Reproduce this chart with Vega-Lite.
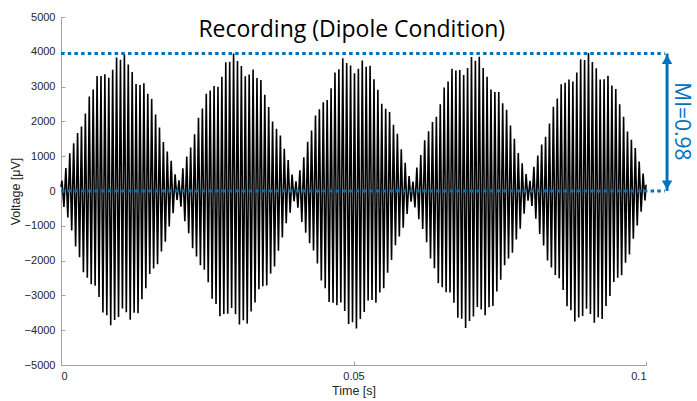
{
  "$schema": "https://vega.github.io/schema/vega-lite/v6.json",
  "width": 585,
  "height": 348,
  "autosize": {"type": "none"},
  "padding": {"left": 61, "top": 17, "right": 51, "bottom": 36},
  "background": "white",
  "config": {
    "view": {"stroke": null},
    "axis": {
      "domainColor": "#a0a0a0",
      "tickColor": "#a0a0a0",
      "labelColor": "#262626",
      "titleColor": "#262626",
      "labelFont": "Liberation Sans",
      "titleFont": "Liberation Sans",
      "labelFontSize": 11,
      "titleFontSize": 12.5,
      "titleFontWeight": "normal",
      "grid": false,
      "tickSize": -4
    }
  },
  "datasets": {
    "sig": [
      {"ms":0,"v":120},
      {"ms":0.167,"v":296},{"ms":0.5,"v":-458},{"ms":0.833,"v":662},{"ms":1.167,"v":-761},{"ms":1.5,"v":1084},{"ms":1.833,"v":-1138},{"ms":2.167,"v":1375},{"ms":2.5,"v":-1597},{"ms":2.833,"v":1665},{"ms":3.167,"v":-1903},
      {"ms":3.5,"v":1854},{"ms":3.833,"v":-2335},{"ms":4.167,"v":2228},{"ms":4.5,"v":-2493},{"ms":4.833,"v":2713},{"ms":5.167,"v":-2677},{"ms":5.5,"v":2916},{"ms":5.833,"v":-2724},{"ms":6.167,"v":3304},{"ms":6.5,"v":-3047},
      {"ms":6.833,"v":3306},{"ms":7.167,"v":-3494},{"ms":7.5,"v":3358},{"ms":7.833,"v":-3567},{"ms":8.167,"v":3256},{"ms":8.5,"v":-3861},{"ms":8.833,"v":3486},{"ms":9.167,"v":-3704},{"ms":9.5,"v":3839},{"ms":9.833,"v":-3618},
      {"ms":10.167,"v":3772},{"ms":10.5,"v":-3378},{"ms":10.833,"v":3934},{"ms":11.167,"v":-3486},{"ms":11.5,"v":3637},{"ms":11.833,"v":-3700},{"ms":12.167,"v":3422},{"ms":12.5,"v":-3501},{"ms":12.833,"v":3075},{"ms":13.167,"v":-3510},
      {"ms":13.5,"v":3047},{"ms":13.833,"v":-3112},{"ms":14.167,"v":3096},{"ms":14.5,"v":-2797},{"ms":14.833,"v":2791},{"ms":15.167,"v":-2387},{"ms":15.5,"v":2647},{"ms":15.833,"v":-2228},{"ms":16.167,"v":2199},{"ms":16.5,"v":-2107},
      {"ms":16.833,"v":1825},{"ms":17.167,"v":-1736},{"ms":17.5,"v":1405},{"ms":17.833,"v":-1461},{"ms":18.167,"v":1138},{"ms":18.5,"v":-1020},{"ms":18.833,"v":865},{"ms":19.167,"v":-635},{"ms":19.5,"v":477},{"ms":19.833,"v":-260},
      {"ms":20.167,"v":305},{"ms":20.5,"v":-448},{"ms":20.833,"v":656},{"ms":21.167,"v":-865},{"ms":21.5,"v":989},{"ms":21.833,"v":-1212},{"ms":22.167,"v":1248},{"ms":22.5,"v":-1645},{"ms":22.833,"v":1629},{"ms":23.167,"v":-1884},
      {"ms":23.5,"v":2107},{"ms":23.833,"v":-2131},{"ms":24.167,"v":2374},{"ms":24.5,"v":-2262},{"ms":24.833,"v":2794},{"ms":25.167,"v":-2620},{"ms":25.5,"v":2886},{"ms":25.833,"v":-3096},{"ms":26.167,"v":3016},{"ms":26.5,"v":-3246},
      {"ms":26.833,"v":2999},{"ms":27.167,"v":-3599},{"ms":27.5,"v":3286},{"ms":27.833,"v":-3531},{"ms":28.167,"v":3700},{"ms":28.5,"v":-3524},{"ms":28.833,"v":3713},{"ms":29.167,"v":-3361},{"ms":29.5,"v":3954},{"ms":29.833,"v":-3541},
      {"ms":30.167,"v":3734},{"ms":30.5,"v":-3839},{"ms":30.833,"v":3590},{"ms":31.167,"v":-3713},{"ms":31.5,"v":3299},{"ms":31.833,"v":-3811},{"ms":32.167,"v":3349},{"ms":32.5,"v":-3465},{"ms":32.833,"v":3494},{"ms":33.167,"v":-3204},
      {"ms":33.5,"v":3246},{"ms":33.833,"v":-2823},{"ms":34.167,"v":3189},{"ms":34.5,"v":-2737},{"ms":34.833,"v":2763},{"ms":35.167,"v":-2713},{"ms":35.5,"v":2416},{"ms":35.833,"v":-2374},{"ms":36.167,"v":1995},{"ms":36.5,"v":-2170},
      {"ms":36.833,"v":1787},{"ms":37.167,"v":-1718},{"ms":37.5,"v":1597},{"ms":37.833,"v":-1333},{"ms":38.167,"v":1212},{"ms":38.5,"v":-926},{"ms":38.833,"v":891},{"ms":39.167,"v":-622},{"ms":39.5,"v":472},{"ms":39.833,"v":-296},
      {"ms":40.167,"v":278},{"ms":40.5,"v":-477},{"ms":40.833,"v":595},{"ms":41.167,"v":-891},{"ms":41.5,"v":968},{"ms":41.833,"v":-1200},{"ms":42.167,"v":1418},{"ms":42.5,"v":-1501},{"ms":42.833,"v":1736},{"ms":43.167,"v":-1709},
      {"ms":43.5,"v":2170},{"ms":43.833,"v":-2086},{"ms":44.167,"v":2349},{"ms":44.5,"v":-2570},{"ms":44.833,"v":2550},{"ms":45.167,"v":-2791},{"ms":45.5,"v":2618},{"ms":45.833,"v":-3189},{"ms":46.167,"v":2951},{"ms":46.5,"v":-3213},
      {"ms":46.833,"v":3408},{"ms":47.167,"v":-3284},{"ms":47.5,"v":3501},{"ms":47.833,"v":-3203},{"ms":48.167,"v":3811},{"ms":48.5,"v":-3449},{"ms":48.833,"v":3675},{"ms":49.167,"v":-3819},{"ms":49.5,"v":3609},{"ms":49.833,"v":-3772},
      {"ms":50.167,"v":3387},{"ms":50.5,"v":-3954},{"ms":50.833,"v":3513},{"ms":51.167,"v":-3675},{"ms":51.5,"v":3749},{"ms":51.833,"v":-3478},{"ms":52.167,"v":3567},{"ms":52.5,"v":-3143},{"ms":52.833,"v":3599},{"ms":53.167,"v":-3135},
      {"ms":53.5,"v":3213},{"ms":53.833,"v":-3208},{"ms":54.167,"v":2910},{"ms":54.5,"v":-2916},{"ms":54.833,"v":2506},{"ms":55.167,"v":-2794},{"ms":55.5,"v":2364},{"ms":55.833,"v":-2349},{"ms":56.167,"v":2267},{"ms":56.5,"v":-1981},
      {"ms":56.833,"v":1903},{"ms":57.167,"v":-1558},{"ms":57.5,"v":1645},{"ms":57.833,"v":-1305},{"ms":58.167,"v":1200},{"ms":58.5,"v":-1052},{"ms":58.833,"v":813},{"ms":59.167,"v":-662},{"ms":59.5,"v":429},{"ms":59.833,"v":-305},
      {"ms":60.167,"v":272},{"ms":60.5,"v":-472},{"ms":60.833,"v":676},{"ms":61.167,"v":-813},{"ms":61.5,"v":1031},{"ms":61.833,"v":-1089},{"ms":62.167,"v":1461},{"ms":62.5,"v":-1469},{"ms":62.833,"v":1718},{"ms":63.167,"v":-1942},
      {"ms":63.5,"v":1981},{"ms":63.833,"v":-2222},{"ms":64.167,"v":2131},{"ms":64.5,"v":-2647},{"ms":64.833,"v":2496},{"ms":65.167,"v":-2763},{"ms":65.5,"v":2975},{"ms":65.833,"v":-2910},{"ms":66.167,"v":3144},{"ms":66.5,"v":-2915},
      {"ms":66.833,"v":3510},{"ms":67.167,"v":-3214},{"ms":67.5,"v":3465},{"ms":67.833,"v":-3640},{"ms":68.167,"v":3478},{"ms":68.5,"v":-3674},{"ms":68.833,"v":3334},{"ms":69.167,"v":-3934},{"ms":69.5,"v":3532},{"ms":69.833,"v":-3734},
      {"ms":70.167,"v":3849},{"ms":70.5,"v":-3609},{"ms":70.833,"v":3743},{"ms":71.167,"v":-3334},{"ms":71.5,"v":3861},{"ms":71.833,"v":-3404},{"ms":72.167,"v":3531},{"ms":72.5,"v":-3572},{"ms":72.833,"v":3284},{"ms":73.167,"v":-3340},
      {"ms":73.5,"v":2915},{"ms":73.833,"v":-3304},{"ms":74.167,"v":2848},{"ms":74.5,"v":-2886},{"ms":74.833,"v":2848},{"ms":75.167,"v":-2550},{"ms":75.5,"v":2519},{"ms":75.833,"v":-2131},{"ms":76.167,"v":2335},{"ms":76.5,"v":-1938},
      {"ms":76.833,"v":1884},{"ms":77.167,"v":-1771},{"ms":77.5,"v":1501},{"ms":77.833,"v":-1390},{"ms":78.167,"v":1089},{"ms":78.5,"v":-1084},{"ms":78.833,"v":796},{"ms":79.167,"v":-656},{"ms":79.5,"v":487},{"ms":79.833,"v":-278},
      {"ms":80.167,"v":290},{"ms":80.5,"v":-429},{"ms":80.833,"v":696},{"ms":81.167,"v":-796},{"ms":81.5,"v":1020},{"ms":81.833,"v":-1237},{"ms":82.167,"v":1333},{"ms":82.5,"v":-1565},{"ms":82.833,"v":1558},{"ms":83.167,"v":-2000},
      {"ms":83.5,"v":1938},{"ms":83.833,"v":-2199},{"ms":84.167,"v":2422},{"ms":84.5,"v":-2416},{"ms":84.833,"v":2659},{"ms":85.167,"v":-2506},{"ms":85.5,"v":3064},{"ms":85.833,"v":-2848},{"ms":86.167,"v":3112},{"ms":86.5,"v":-3312},
      {"ms":86.833,"v":3204},{"ms":87.167,"v":-3424},{"ms":87.5,"v":3143},{"ms":87.833,"v":-3749},{"ms":88.167,"v":3404},{"ms":88.5,"v":-3637},{"ms":88.833,"v":3789},{"ms":89.167,"v":-3590},{"ms":89.5,"v":3762},{"ms":89.833,"v":-3387},
      {"ms":90.167,"v":3964},{"ms":90.5,"v":-3532},{"ms":90.833,"v":3704},{"ms":91.167,"v":-3789},{"ms":91.5,"v":3524},{"ms":91.833,"v":-3626},{"ms":92.167,"v":3203},{"ms":92.5,"v":-3679},{"ms":92.833,"v":3214},{"ms":93.167,"v":-3306},
      {"ms":93.5,"v":3312},{"ms":93.833,"v":-3016},{"ms":94.167,"v":3034},{"ms":94.5,"v":-2618},{"ms":94.833,"v":2933},{"ms":95.167,"v":-2496},{"ms":95.5,"v":2493},{"ms":95.833,"v":-2422},{"ms":96.167,"v":2131},{"ms":96.5,"v":-2065},
      {"ms":96.833,"v":1709},{"ms":97.167,"v":-1824},{"ms":97.5,"v":1469},{"ms":97.833,"v":-1375},{"ms":98.167,"v":1237},{"ms":98.5,"v":-989},{"ms":98.833,"v":848},{"ms":99.167,"v":-595},{"ms":99.5,"v":502},{"ms":99.833,"v":-272},
      {"ms":100,"v":180}
    ],
    "levels": [
      {"ms0": 0, "ms1": 103.2, "v": 3950},
      {"ms0": 0, "ms1": 103.2, "v": 0}
    ],
    "arrow": [
      {"ms": 103.6, "lo": 0, "hi": 3950}
    ],
    "mi": [
      {"ms": 105.9, "v": 2000, "label": "MI=0.98"}
    ],
    "heading": [
      {"ms": 49.7, "v": 4640, "label": "Recording (Dipole Condition)"}
    ]
  },
  "encoding": {
    "x": {
      "field": "ms",
      "type": "quantitative",
      "scale": {"domain": [0, 100], "nice": false, "zero": false},
      "axis": {
        "title": "Time [s]",
        "values": [0, 50, 100],
        "labelExpr": "datum.value / 1000",
        "labelPadding": 9,
        "titlePadding": 3
      }
    },
    "y": {
      "field": "v",
      "type": "quantitative",
      "scale": {"domain": [-5000, 5000], "nice": false},
      "axis": {
        "title": "Voltage [μV]",
        "format": "d",
        "values": [-5000, -4000, -3000, -2000, -1000, 0, 1000, 2000, 3000, 4000, 5000],
        "labelPadding": 10,
        "titlePadding": 2
      }
    }
  },
  "layer": [
    {
      "data": {"name": "sig"},
      "mark": {"type": "line", "color": "#000000", "strokeWidth": 1.6, "interpolate": "linear"},
      "encoding": {}
    },
    {
      "data": {"name": "levels"},
      "mark": {"type": "rule", "color": "#0072BD", "strokeWidth": 3, "strokeDash": [3.5, 3.2], "clip": false},
      "encoding": {
        "x": {"field": "ms0", "type": "quantitative"},
        "x2": {"field": "ms1"},
        "y": {"field": "v", "type": "quantitative"}
      }
    },
    {
      "data": {"name": "arrow"},
      "mark": {"type": "rule", "color": "#0072BD", "strokeWidth": 3, "clip": false},
      "encoding": {
        "x": {"field": "ms", "type": "quantitative"},
        "y": {"field": "lo", "type": "quantitative"},
        "y2": {"field": "hi"}
      }
    },
    {
      "data": {"name": "arrow"},
      "mark": {"type": "point", "shape": "triangle-up", "filled": true, "color": "#0072BD", "size": 110, "opacity": 1, "yOffset": 6, "clip": false},
      "encoding": {
        "x": {"field": "ms", "type": "quantitative"},
        "y": {"field": "hi", "type": "quantitative"}
      }
    },
    {
      "data": {"name": "arrow"},
      "mark": {"type": "point", "shape": "triangle-down", "filled": true, "color": "#0072BD", "size": 110, "opacity": 1, "yOffset": -6, "clip": false},
      "encoding": {
        "x": {"field": "ms", "type": "quantitative"},
        "y": {"field": "lo", "type": "quantitative"}
      }
    },
    {
      "data": {"name": "mi"},
      "mark": {"type": "text", "color": "#0072BD", "font": "Open Sans", "fontSize": 21, "angle": 90, "align": "center", "baseline": "middle", "clip": false},
      "encoding": {
        "x": {"field": "ms", "type": "quantitative"},
        "y": {"field": "v", "type": "quantitative"},
        "text": {"field": "label"}
      }
    },
    {
      "data": {"name": "heading"},
      "mark": {"type": "text", "color": "#000000", "font": "Open Sans", "fontSize": 23, "align": "center", "baseline": "middle"},
      "encoding": {
        "x": {"field": "ms", "type": "quantitative"},
        "y": {"field": "v", "type": "quantitative"},
        "text": {"field": "label"}
      }
    }
  ]
}
